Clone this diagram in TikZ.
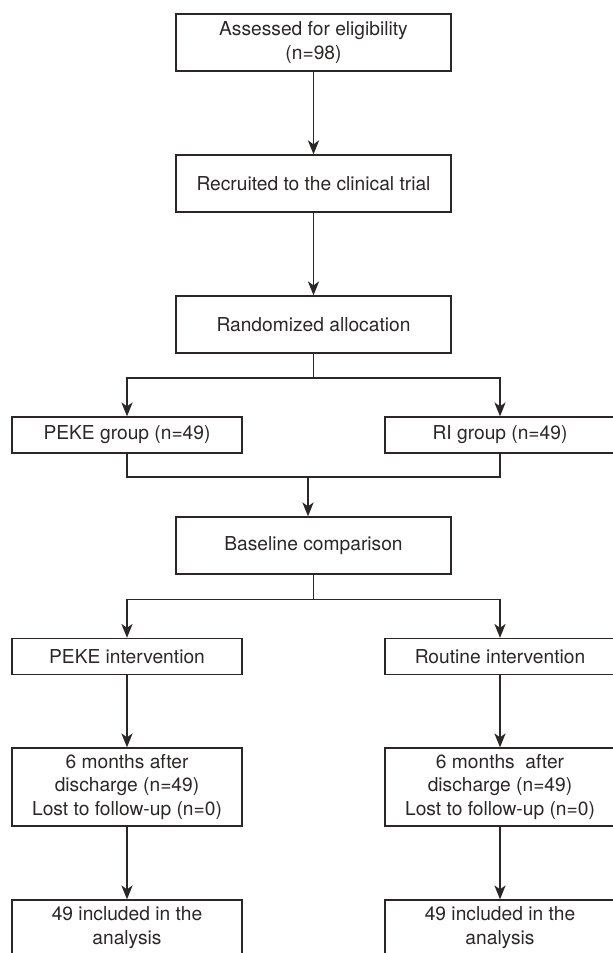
\documentclass[tikz,border=0pt]{standalone}
\usepackage{fontspec}
\setmainfont{TeX Gyre Heros}
\usetikzlibrary{arrows.meta}
\definecolor{inkgray}{HTML}{2B2727}

\tikzset{
    flowbox/.style={draw=inkgray, line width=0.65pt, text=inkgray, align=center,
        inner sep=0pt, font=\fontsize{9.6}{11.9}\selectfont},
    widebox/.style={flowbox, minimum width=137.5pt, minimum height=28.5pt},
    sidebox/.style={flowbox, minimum width=115pt},
    link/.style={draw=inkgray, line width=0.65pt},
}

\begin{document}
\begin{tikzpicture}[x=0.5pt, y=-0.5pt, >={Stealth[length=7pt,width=5.6pt,inset=2pt]}]
    \clip (0,0) rectangle (613,953);

    \node[widebox] (assess) at (313.5,42.5) {Assessed for eligibility\\(n=98)};
    \node[widebox] (recruit) at (313.5,183.5) {Recruited to the clinical trial};
    \node[widebox] (random) at (313.5,324.5) {Randomized allocation};

    \node[sidebox, minimum height=18pt] (pekegrp) at (127,435) {PEKE group (n=49)};
    \node[sidebox, minimum height=18pt] (rigrp) at (500,435) {RI group (n=49)};

    \node[widebox] (baseline) at (313.5,545.5) {Baseline comparison};

    \node[sidebox, minimum height=18pt] (pekeint) at (127,656.5) {PEKE intervention};
    \node[sidebox, minimum height=18pt] (routint) at (500,656.5) {Routine intervention};

    \node[sidebox, minimum height=39pt] (pekefu) at (127,787)
        {6 months after\\discharge (n=49)\\Lost to follow-up (n=0)};
    \node[sidebox, minimum height=39pt] (routfu) at (500,787)
        {6 months~ after\\discharge (n=49)\\Lost to follow-up (n=0)};

    \node[sidebox, minimum height=27.5pt] (pekeana) at (127,927.5) {49 included in the\\analysis};
    \node[sidebox, minimum height=27.5pt] (routana) at (500,927.5) {49 included in the\\analysis};

    % split and merge points
    \coordinate (split1) at (313.5,378);
    \coordinate (merge) at (308,477);
    \coordinate (split2) at (313.5,599.5);

    \draw[link,->] (assess) -- (recruit);
    \draw[link,->] (recruit) -- (random);

    \draw[link] (random) -- (split1);
    \draw[link,->] (split1) -| (pekegrp);
    \draw[link,->] (split1) -| (rigrp);

    \draw[link] (pekegrp) |- (merge) -| (rigrp);
    \draw[link,->] (merge) -- (merge |- baseline.north);

    \draw[link] (baseline) -- (split2);
    \draw[link,->] (split2) -| (pekeint);
    \draw[link,->] (split2) -| (routint);

    \draw[link,->] (pekeint) -- (pekefu);
    \draw[link,->] (pekefu) -- (pekeana);
    \draw[link,->] (routint) -- (routfu);
    \draw[link,->] (routfu) -- (routana);
\end{tikzpicture}
\end{document}
